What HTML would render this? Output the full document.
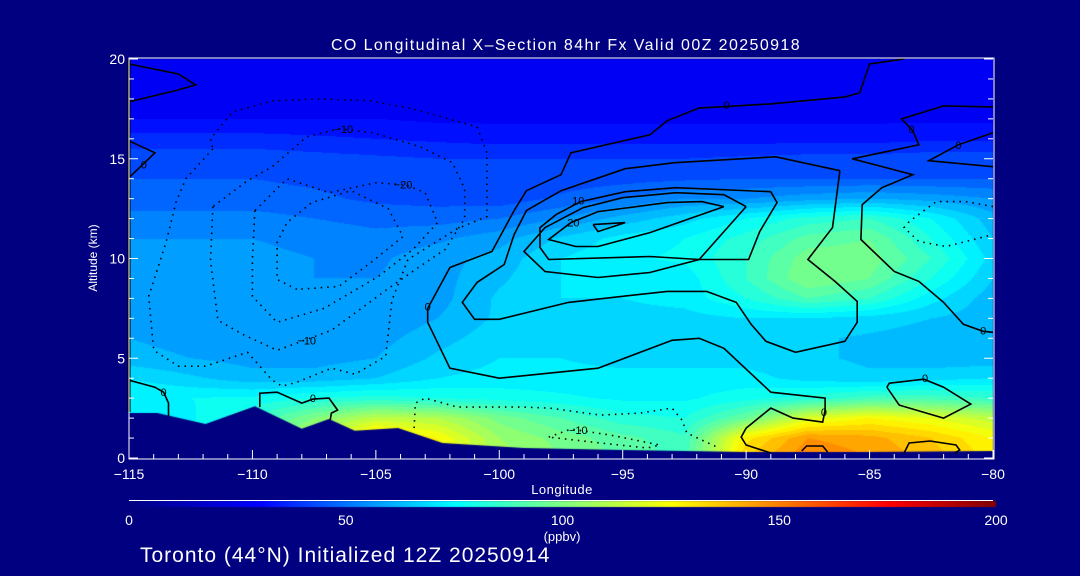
<!DOCTYPE html>
<html><head><meta charset="utf-8">
<style>
html,body{margin:0;padding:0;background:#000080;}
#wrap{position:relative;width:1080px;height:576px;background:#000080;overflow:hidden;font-family:"Liberation Sans",sans-serif;color:#fff;}
#heat{position:absolute;left:0;top:0;}
#ov{position:absolute;left:0;top:0;}
</style></head>
<body>
<div id="wrap">
<canvas id="heat" width="1080" height="576"></canvas>
<svg id="ov" width="1080" height="576">
  <g id="contours"></g>
  <g id="clabels"></g>
  <g id="axes"></g>
  <text x="566" y="50" text-anchor="middle" font-size="16" letter-spacing="1.4" fill="#fff">CO Longitudinal X–Section 84hr  Fx Valid 00Z 20250918</text>
  <text x="562" y="494" text-anchor="middle" font-size="13" letter-spacing="0.5" fill="#fff">Longitude</text>
  <text x="0" y="0" transform="translate(97,258) rotate(-90)" text-anchor="middle" font-size="12" fill="#fff">Altitude (km)</text>
  <g id="cbar"></g>
  <text x="562" y="541" text-anchor="middle" font-size="13" fill="#fff">(ppbv)</text>
  <text x="140" y="562" font-size="21" letter-spacing="1" fill="#fff">Toronto (44°N) Initialized 12Z 20250914</text>
</svg>
</div>
<script>
// ---- data ----
const lons = [-115,-112.5,-110,-107.5,-105,-102.5,-100,-97.5,-95,-92.5,-90,-87.5,-85,-82.5,-80];
const alts = [0,1,2,3,4,5,6,7,8,9,10,11,12,13,14,15,16,17,18,19,20];
const coValues = [
 [74,75,95,112,145,128,108,100,94,88,135,150,145,138,128],
 [74,75,95,110,135,125,105,98,92,86,128,145,142,135,125],
 [74,74,85,100,112,110,98,90,82,80,95,118,125,120,112],
 [75,75,76,80,82,80,78,76,74,74,78,82,88,88,85],
 [70,66,62,62,65,70,72,72,72,72,72,68,66,68,70],
 [62,60,58,58,60,66,70,70,68,68,68,66,64,62,62],
 [60,58,56,56,58,63,68,68,67,66,67,66,64,62,62],
 [60,58,56,55,56,60,66,68,68,68,70,70,68,65,62],
 [58,57,56,55,55,58,66,70,70,72,80,90,85,72,62],
 [58,57,56,55,55,58,64,70,72,72,85,100,95,80,65],
 [57,57,56,55,54,58,62,70,74,76,85,98,98,85,68],
 [55,55,55,54,52,54,58,66,72,75,82,92,95,80,65],
 [52,52,52,50,48,48,50,55,62,68,75,82,85,75,62],
 [47,47,47,46,44,43,42,46,50,55,55,58,60,58,55],
 [45,45,45,44,43,42,42,42,43,44,45,45,45,45,45],
 [43,43,43,42,41,40,40,40,40,40,41,42,42,43,43],
 [37,37,37,36,35,34,33,33,33,33,33,33,33,34,34],
 [30,30,30,30,30,29,29,29,29,29,29,29,29,29,29],
 [27,27,27,27,27,27,27,27,27,27,27,27,27,27,27],
 [27,27,27,27,27,27,27,27,27,27,27,27,27,27,27],
 [27,27,27,27,27,27,27,27,27,27,27,27,27,27,27]
];
const terrainLon = [-115,-113.85,-111.9,-109.9,-108,-106.9,-105.85,-104.1,-102.3,-99,-95,-90,-85,-80];
const terrainAlt = [2.26,2.26,1.7,2.6,1.46,1.96,1.36,1.5,0.75,0.5,0.4,0.3,0.3,0.35];
const xTicks = [-115,-110,-105,-100,-95,-90,-85,-80];
const xTickLabels = ["−115","−110","−105","−100","−95","−90","−85","−80"];
const yTicks = [0,5,10,15,20];
const yTickLabels = ["0","5","10","15","20"];
const cbarTicks = [0,50,100,150,200];
const cbarTickLabels = ["0","50","100","150","200"];
const solidContours = [
 [[-83.6,20],[-85.0,19.75],[-85.4,18.3],[-86.0,18.1],[-89.0,17.75],[-91.1,17.6],[-91.9,17.55],[-93.2,16.9],[-93.9,16.2],[-97.1,15.3],[-97.5,14.2],[-98.9,13.4],[-99.4,12.4],[-100.3,10.35],[-102.0,9.55],[-102.9,7.5],[-102.9,6.8],[-102.0,4.5],[-100.0,4.0],[-96.0,4.5],[-93.0,5.9],[-91.9,6.0],[-90.9,5.5],[-89.0,3.3],[-86.8,3.0],[-86.8,2.4],[-86.9,1.8],[-88.1,2.0],[-89.0,2.5],[-90.0,1.5],[-90.2,1.05],[-90.0,0.65],[-89.0,0.25]],
 [[-86.2,14.4],[-86.5,11.55],[-87.5,9.95],[-86.4,8.85],[-85.5,7.85],[-85.5,6.8],[-86.0,5.85],[-88.0,5.3],[-89.2,5.85],[-89.8,6.7],[-90.4,7.8],[-91.6,8.35],[-93.2,8.35],[-97.2,7.8],[-100.0,6.95],[-101.0,6.95],[-101.5,7.8],[-100.9,8.8],[-99.8,9.7],[-99.4,11.2],[-98.9,12.4],[-97.5,13.4],[-94.9,14.5],[-92.9,14.8],[-88.8,15.1],[-87.7,14.8],[-86.2,14.4]],
 [[-89.0,13.35],[-88.75,12.8],[-89.45,11.35],[-89.9,9.95],[-91.9,9.95],[-93.9,10.1],[-98.0,9.95],[-98.35,10.55],[-98.35,11.55],[-97.7,12.2],[-96.7,12.85],[-94.9,13.35],[-92.85,13.55],[-89.0,13.35]],
 [[-90.0,12.6],[-90.9,13.2],[-92.85,13.3],[-95.0,13.05],[-96.6,12.55],[-98.15,11.55],[-99.0,10.35],[-98.15,9.35],[-96.0,9.05],[-93.9,9.3],[-91.9,9.95],[-90.0,12.6]],
 [[-90.9,12.6],[-91.8,12.85],[-93.2,12.8],[-96.0,12.35],[-97.1,11.8],[-98.0,10.95],[-96.9,10.6],[-96.0,10.6],[-93.9,11.3],[-90.9,12.6]],
 [[-96.2,11.7],[-94.9,11.8],[-96.0,11.35],[-96.2,11.7]],
 [[-80,16.3],[-81.4,15.7],[-82.6,14.9],[-80,14.6]],
 [[-80,17.6],[-82.0,17.65],[-83.7,17.0],[-83.25,16.4],[-83.0,15.7],[-85.7,15.0],[-83.25,14.2],[-84.5,13.55],[-85.3,12.7],[-85.35,10.95],[-84.0,9.35],[-83.0,8.85],[-82.0,7.8],[-81.2,6.7],[-80.4,6.35],[-80,6.3]],
 [[-84.3,3.55],[-83.8,2.65],[-82.0,2.0],[-80.9,2.7],[-82.0,3.55],[-82.8,3.95],[-84.2,3.75],[-84.3,3.55]],
 [[-87.75,0.35],[-87.55,0.6],[-86.9,0.6],[-86.7,0.3]],
 [[-83.6,0.25],[-83.4,0.75],[-82.55,0.85],[-81.5,0.65],[-81.35,0.4],[-81.55,0.25]],
 [[-115,19.75],[-113,19.25],[-112.3,18.7],[-113,18.45],[-115,17.85]],
 [[-115,15.9],[-113.95,15.3],[-115,14.05]],
 [[-115,3.9],[-113.95,3.55],[-113.6,3.3],[-113.4,2.75],[-113.4,2.1]],
 [[-109.7,2.55],[-109.7,3.25],[-109.0,3.3],[-108.0,2.75],[-107.55,2.95],[-106.9,3.0],[-106.55,2.4],[-106.8,2.25],[-106.85,1.9]]
];
const dottedContours = [
 [[-111.6,15.5],[-112.7,14.0],[-113.1,12.8],[-113.5,10.8],[-114.2,8.1],[-114.0,5.4],[-113.0,4.6],[-111.9,4.6],[-110.2,5.3],[-109.2,3.9],[-108.8,3.6],[-108.2,3.8],[-106.8,4.5],[-105.85,4.2],[-104.6,5.1],[-104.35,7.9],[-103.7,9.95],[-101.7,11.5],[-100.5,12.1],[-100.5,15.3],[-100.9,16.6],[-103.5,17.5],[-105.2,17.9],[-107.3,18.0],[-109.2,17.9],[-110.8,17.35],[-111.7,16.0],[-111.6,15.5]],
 [[-111.6,12.6],[-111.7,9.9],[-111.4,6.9],[-110.4,6.2],[-109.0,5.4],[-106.8,6.4],[-105.7,7.4],[-104.6,8.4],[-103.4,9.45],[-102.2,10.45],[-101.4,12.0],[-101.4,13.5],[-101.9,14.8],[-103.2,15.6],[-105.1,16.3],[-106.5,16.5],[-107.8,16.1],[-109.2,14.6],[-110.2,13.9],[-111.6,12.6]],
 [[-109.9,12.4],[-110.0,9.95],[-110.0,8.1],[-109.0,6.8],[-107.1,7.5],[-104.9,9.1],[-103.5,10.45],[-102.5,11.8],[-103.0,13.3],[-103.8,13.7],[-105.0,13.8],[-106.9,13.3],[-108.6,14.0],[-109.9,12.4]],
 [[-108.2,8.45],[-109.0,8.95],[-109.0,10.8],[-108.6,11.8],[-107.6,12.8],[-106.0,13.4],[-104.5,12.5],[-103.9,11.1],[-105.2,9.8],[-106.5,8.6],[-108.2,8.45]],
 [[-103.45,1.5],[-103.4,2.75],[-103.0,3.0],[-101.7,2.55],[-99.0,2.55],[-97.95,2.5],[-95.9,2.15],[-94.3,2.25],[-93.0,2.5],[-92.6,1.9],[-92.4,1.25],[-91.1,0.5]],
 [[-98.0,1.05],[-97.1,1.45],[-95.5,1.15],[-93.5,0.65],[-94.0,0.5],[-95.9,0.75],[-98.0,1.05]],
 [[-80,12.6],[-81.1,12.85],[-82.3,12.85],[-83.4,11.85],[-83.6,11.55],[-83.0,10.85],[-81.9,10.6],[-80,11.2]]
];
const contourLabelText = ["0","10","20","0","−10","−20","−10","0","0","−10","0","0","0","0","0","0"];
const contourLabelLon = [-90.8,-96.8,-97.0,-102.9,-106.3,-103.9,-107.8,-113.6,-107.55,-96.8,-86.85,-82.75,-80.4,-83.3,-81.4,-114.4];
const contourLabelAlt = [17.7,12.9,11.8,7.6,16.5,13.7,5.9,3.3,3.0,1.4,2.3,4.0,6.4,16.5,15.7,14.7];

// ---- layout ----
const PX0=129, PX1=993, PY0=59, PY1=458;
const xs = lon => PX0 + (lon+115)*(PX1-PX0)/35;
const ys = alt => PY1 - alt*(PY1-PY0)/20;
const CB0=129, CB1=996;
const cbx = v => CB0 + v*(CB1-CB0)/200;

const stopV=[0,30,52,75,100,125,150,175,200];
const stopC=[[0,0,128],[0,0,255],[0,128,255],[0,255,255],[128,255,128],[255,255,0],[255,128,0],[255,0,0],[128,0,0]];
function cmap(v){
  v=Math.max(0,Math.min(200,v));
  for(let i=0;i<stopV.length-1;i++){
    if(v<=stopV[i+1]){const t=(v-stopV[i])/(stopV[i+1]-stopV[i]);
      return stopC[i].map((c,k)=>Math.round(c+(stopC[i+1][k]-c)*t));}
  }
  return stopC[stopC.length-1];
}
function interp(lon,alt){
  let fi=(lon-lons[0])/(lons[1]-lons[0]); fi=Math.max(0,Math.min(lons.length-1.0001,fi));
  let fj=(alt-alts[0])/(alts[1]-alts[0]); fj=Math.max(0,Math.min(alts.length-1.0001,fj));
  const i=Math.floor(fi), j=Math.floor(fj), a=fi-i, b=fj-j;
  const v00=coValues[j][i], v10=coValues[j][i+1], v01=coValues[j+1][i], v11=coValues[j+1][i+1];
  return (v00*(1-a)+v10*a)*(1-b)+(v01*(1-a)+v11*a)*b;
}
const cv=document.getElementById('heat'), ctx=cv.getContext('2d');
ctx.fillStyle='#000080'; ctx.fillRect(0,0,1080,576);
const W=PX1-PX0, H=PY1-PY0, img=ctx.createImageData(W,H);
for(let py=0;py<H;py++){
  const alt=(PY1-(PY0+py+0.5))*20/(PY1-PY0);
  for(let px=0;px<W;px++){
    const lon=-115+(px+0.5)*35/W;
    const v=Math.floor(interp(lon,alt)/5)*5+2.5;
    const c=cmap(v), k=(py*W+px)*4;
    img.data[k]=c[0];img.data[k+1]=c[1];img.data[k+2]=c[2];img.data[k+3]=255;
  }
}
ctx.putImageData(img,PX0,PY0);
ctx.fillStyle='#000080'; ctx.beginPath();
ctx.moveTo(xs(terrainLon[0]),PY1+1);
for(let i=0;i<terrainLon.length;i++) ctx.lineTo(xs(terrainLon[i]),ys(terrainAlt[i]));
ctx.lineTo(xs(terrainLon[terrainLon.length-1]),PY1+1); ctx.closePath(); ctx.fill();
for(let x=CB0;x<CB1;x++){const c=cmap((x-CB0)*200/(CB1-CB0));ctx.fillStyle='rgb('+c.join(',')+')';ctx.fillRect(x,501,1,6);}

const NS='http://www.w3.org/2000/svg';
function mk(tag,attrs,parent){const e=document.createElementNS(NS,tag);for(const k in attrs)e.setAttribute(k,attrs[k]);parent.appendChild(e);return e;}
const gC=document.getElementById('contours');
solidContours.forEach(line=>{
  const e=mk('polyline',{points:line.map(p=>xs(p[0]).toFixed(1)+','+ys(p[1]).toFixed(1)).join(' '),fill:'none',stroke:'#000','stroke-width':'1.6'},gC);
  
  
});
dottedContours.forEach(line=>{
  const e=mk('polyline',{points:line.map(p=>xs(p[0]).toFixed(1)+','+ys(p[1]).toFixed(1)).join(' '),fill:'none',stroke:'#000','stroke-width':'1.6','stroke-dasharray':'1.5 5'},gC);
  
  
});
const gL=document.getElementById('clabels');
contourLabelText.forEach((t,i)=>{
  const e=mk('text',{x:xs(contourLabelLon[i]),y:ys(contourLabelAlt[i])+4,'text-anchor':'middle','font-size':'11',fill:'#000'},gL);
  e.textContent=t;
  
  
});
const gA=document.getElementById('axes');
const lb=mk('line',{x1:PX0,y1:PY0,x2:PX0,y2:ys(2.3),stroke:'#000','stroke-width':'3'},gA);


const fr=mk('rect',{x:PX0,y:PY0-1,width:PX1-PX0+1,height:PY1-PY0+2,fill:'none',stroke:'#fff','stroke-width':'1'},gA);


for(let l=-115;l<=-80;l++){
  const major=(l%5===0);
  const t=mk('line',{x1:xs(l),y1:PY1+1,x2:xs(l),y2:PY1+1-(major?9:5),stroke:'#fff','stroke-width':'1'},gA);
  
  
}
for(let a=0;a<=20;a++){
  const major=(a%5===0);
  [PX0,PX1].forEach((x0,s)=>{
    const t=mk('line',{x1:x0,y1:ys(a),x2:x0+(s?-1:1)*(major?9:5),y2:ys(a),stroke:'#fff','stroke-width':'1'},gA);
    
    
  });
}
xTicks.forEach((v,i)=>{
  const e=mk('text',{x:xs(v),y:479,'text-anchor':'middle','font-size':'14',fill:'#fff'},gA);
  e.textContent=xTickLabels[i];
  
  
});
yTicks.forEach((v,i)=>{
  const e=mk('text',{x:125,y:ys(v)+5,'text-anchor':'end','font-size':'14',fill:'#fff'},gA);
  e.textContent=yTickLabels[i];
  
  
});
const gB=document.getElementById('cbar');
const cl=mk('line',{x1:CB0,y1:500.5,x2:CB1-3,y2:500.5,stroke:'#fff','stroke-width':'1'},gB);


cbarTicks.forEach((v,i)=>{
  const e=mk('text',{x:cbx(v),y:525,'text-anchor':'middle','font-size':'14',fill:'#fff'},gB);
  e.textContent=cbarTickLabels[i];
  
  
});
</script>
</body></html>
